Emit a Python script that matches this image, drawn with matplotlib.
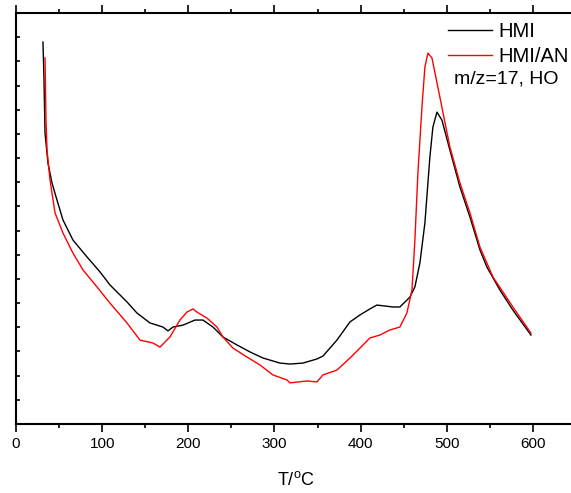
import numpy as np
import matplotlib
matplotlib.use("Agg")
import matplotlib.pyplot as plt
from matplotlib.ticker import MultipleLocator, NullFormatter

plt.rcParams['font.family'] = ['Liberation Sans', 'DejaVu Sans']

# HMI (black), T in degC, intensity in arbitrary units
t_hmi = [31.3, 32.5, 33.7, 37.1, 41.8, 47.6, 54.5, 66.1, 82.4, 97.5, 109.1, 128.8,
         140.4, 155.5, 170.6, 176.4, 182.2, 193.8, 207.7, 217.0, 228.6, 240.2, 256.5,
         271.6, 286.6, 306.4, 318.0, 333.1, 349.3, 356.3, 372.5, 387.6, 399.2, 410.8,
         418.9, 437.5, 445.6, 457.2, 463.0, 468.8, 474.6, 480.4, 483.9, 488.6, 494.4,
         503.6, 515.3, 526.9, 538.5, 546.6, 561.7, 576.8, 597.7]
i_hmi = [15.80, 14.23, 12.03, 10.79, 9.97, 9.26, 8.44, 7.61, 6.91, 6.29, 5.75, 5.05,
         4.59, 4.18, 4.01, 3.85, 4.01, 4.09, 4.30, 4.30, 4.01, 3.60, 3.27,
         2.98, 2.73, 2.52, 2.48, 2.52, 2.69, 2.81, 3.47, 4.22, 4.51, 4.76,
         4.92, 4.84, 4.84, 5.25, 5.67, 6.66, 8.31, 11.04, 12.28, 12.90, 12.57,
         11.33, 9.80, 8.56, 7.20, 6.49, 5.54, 4.71, 3.68]

# HMI/AN (red)
t_an = [33.7, 34.8, 36.0, 39.5, 45.3, 54.5, 66.1, 77.8, 94.0, 109.1, 128.8, 143.9,
        159.0, 167.1, 178.7, 190.3, 198.4, 205.4, 210.0, 221.7, 233.3, 240.2, 251.8,
        268.1, 283.2, 298.2, 314.5, 318.0, 337.7, 349.3, 356.3, 372.5, 387.6, 399.2,
        410.8, 422.4, 434.0, 445.6, 453.7, 459.6, 463.0, 466.5, 471.2, 474.6, 478.1,
        482.8, 492.0, 503.6, 515.3, 526.9, 538.5, 553.6, 576.8, 597.7]
i_an = [15.14, 12.57, 11.33, 10.09, 8.73, 7.90, 7.07, 6.37, 5.67, 5.00, 4.18, 3.47,
        3.35, 3.18, 3.60, 4.30, 4.63, 4.76, 4.63, 4.38, 4.01, 3.60, 3.14,
        2.77, 2.44, 2.03, 1.82, 1.70, 1.78, 1.74, 2.03, 2.23, 2.73, 3.14,
        3.56, 3.68, 3.89, 4.01, 4.59, 5.54, 7.61, 10.38, 13.11, 14.76, 15.34,
        15.14, 13.52, 11.46, 9.97, 8.73, 7.32, 6.08, 4.84, 3.76]

W, H = 571, 493
fig = plt.figure(figsize=(W / 100, H / 100), dpi=100)
ax = fig.add_axes([16 / W, 69 / H, 560 / W, 411 / H])

ax.plot(t_hmi, i_hmi, color='black', lw=1.0, label='HMI')
ax.plot(t_an, i_an, color='red', lw=1.0, label='HMI/AN')

ax.set_xlim(0, 650)
ax.set_ylim(0, 17)
ax.xaxis.set_major_locator(MultipleLocator(100))
ax.xaxis.set_minor_locator(MultipleLocator(50))
ax.yaxis.set_major_locator(MultipleLocator(1))
ax.yaxis.set_major_formatter(NullFormatter())
ax.tick_params(axis='x', which='major', direction='out', length=6, width=1.2,
               labelsize=11, pad=3)
ax.tick_params(axis='x', which='minor', direction='out', length=3, width=1.2)
ax.tick_params(axis='x', which='both', top=True)
ax.tick_params(axis='y', which='both', direction='in', length=3, width=1.2)
for s in ax.spines.values():
    s.set_linewidth(1.5)

ax.set_xlabel('T/$\\mathregular{^{o}}$C', fontsize=13, labelpad=15)

leg = ax.legend(loc='upper left', bbox_to_anchor=(440 / W, 1 - 14 / H),
                bbox_transform=fig.transFigure, frameon=False,
                fontsize=14.5, handlelength=2.2, handletextpad=0.3,
                labelspacing=0.28, borderaxespad=0)
fig.text(454 / W, 1 - 79 / H, 'm/z=17, HO', fontsize=14,
         va='center', ha='left')

fig.savefig('out.png', dpi=100)
